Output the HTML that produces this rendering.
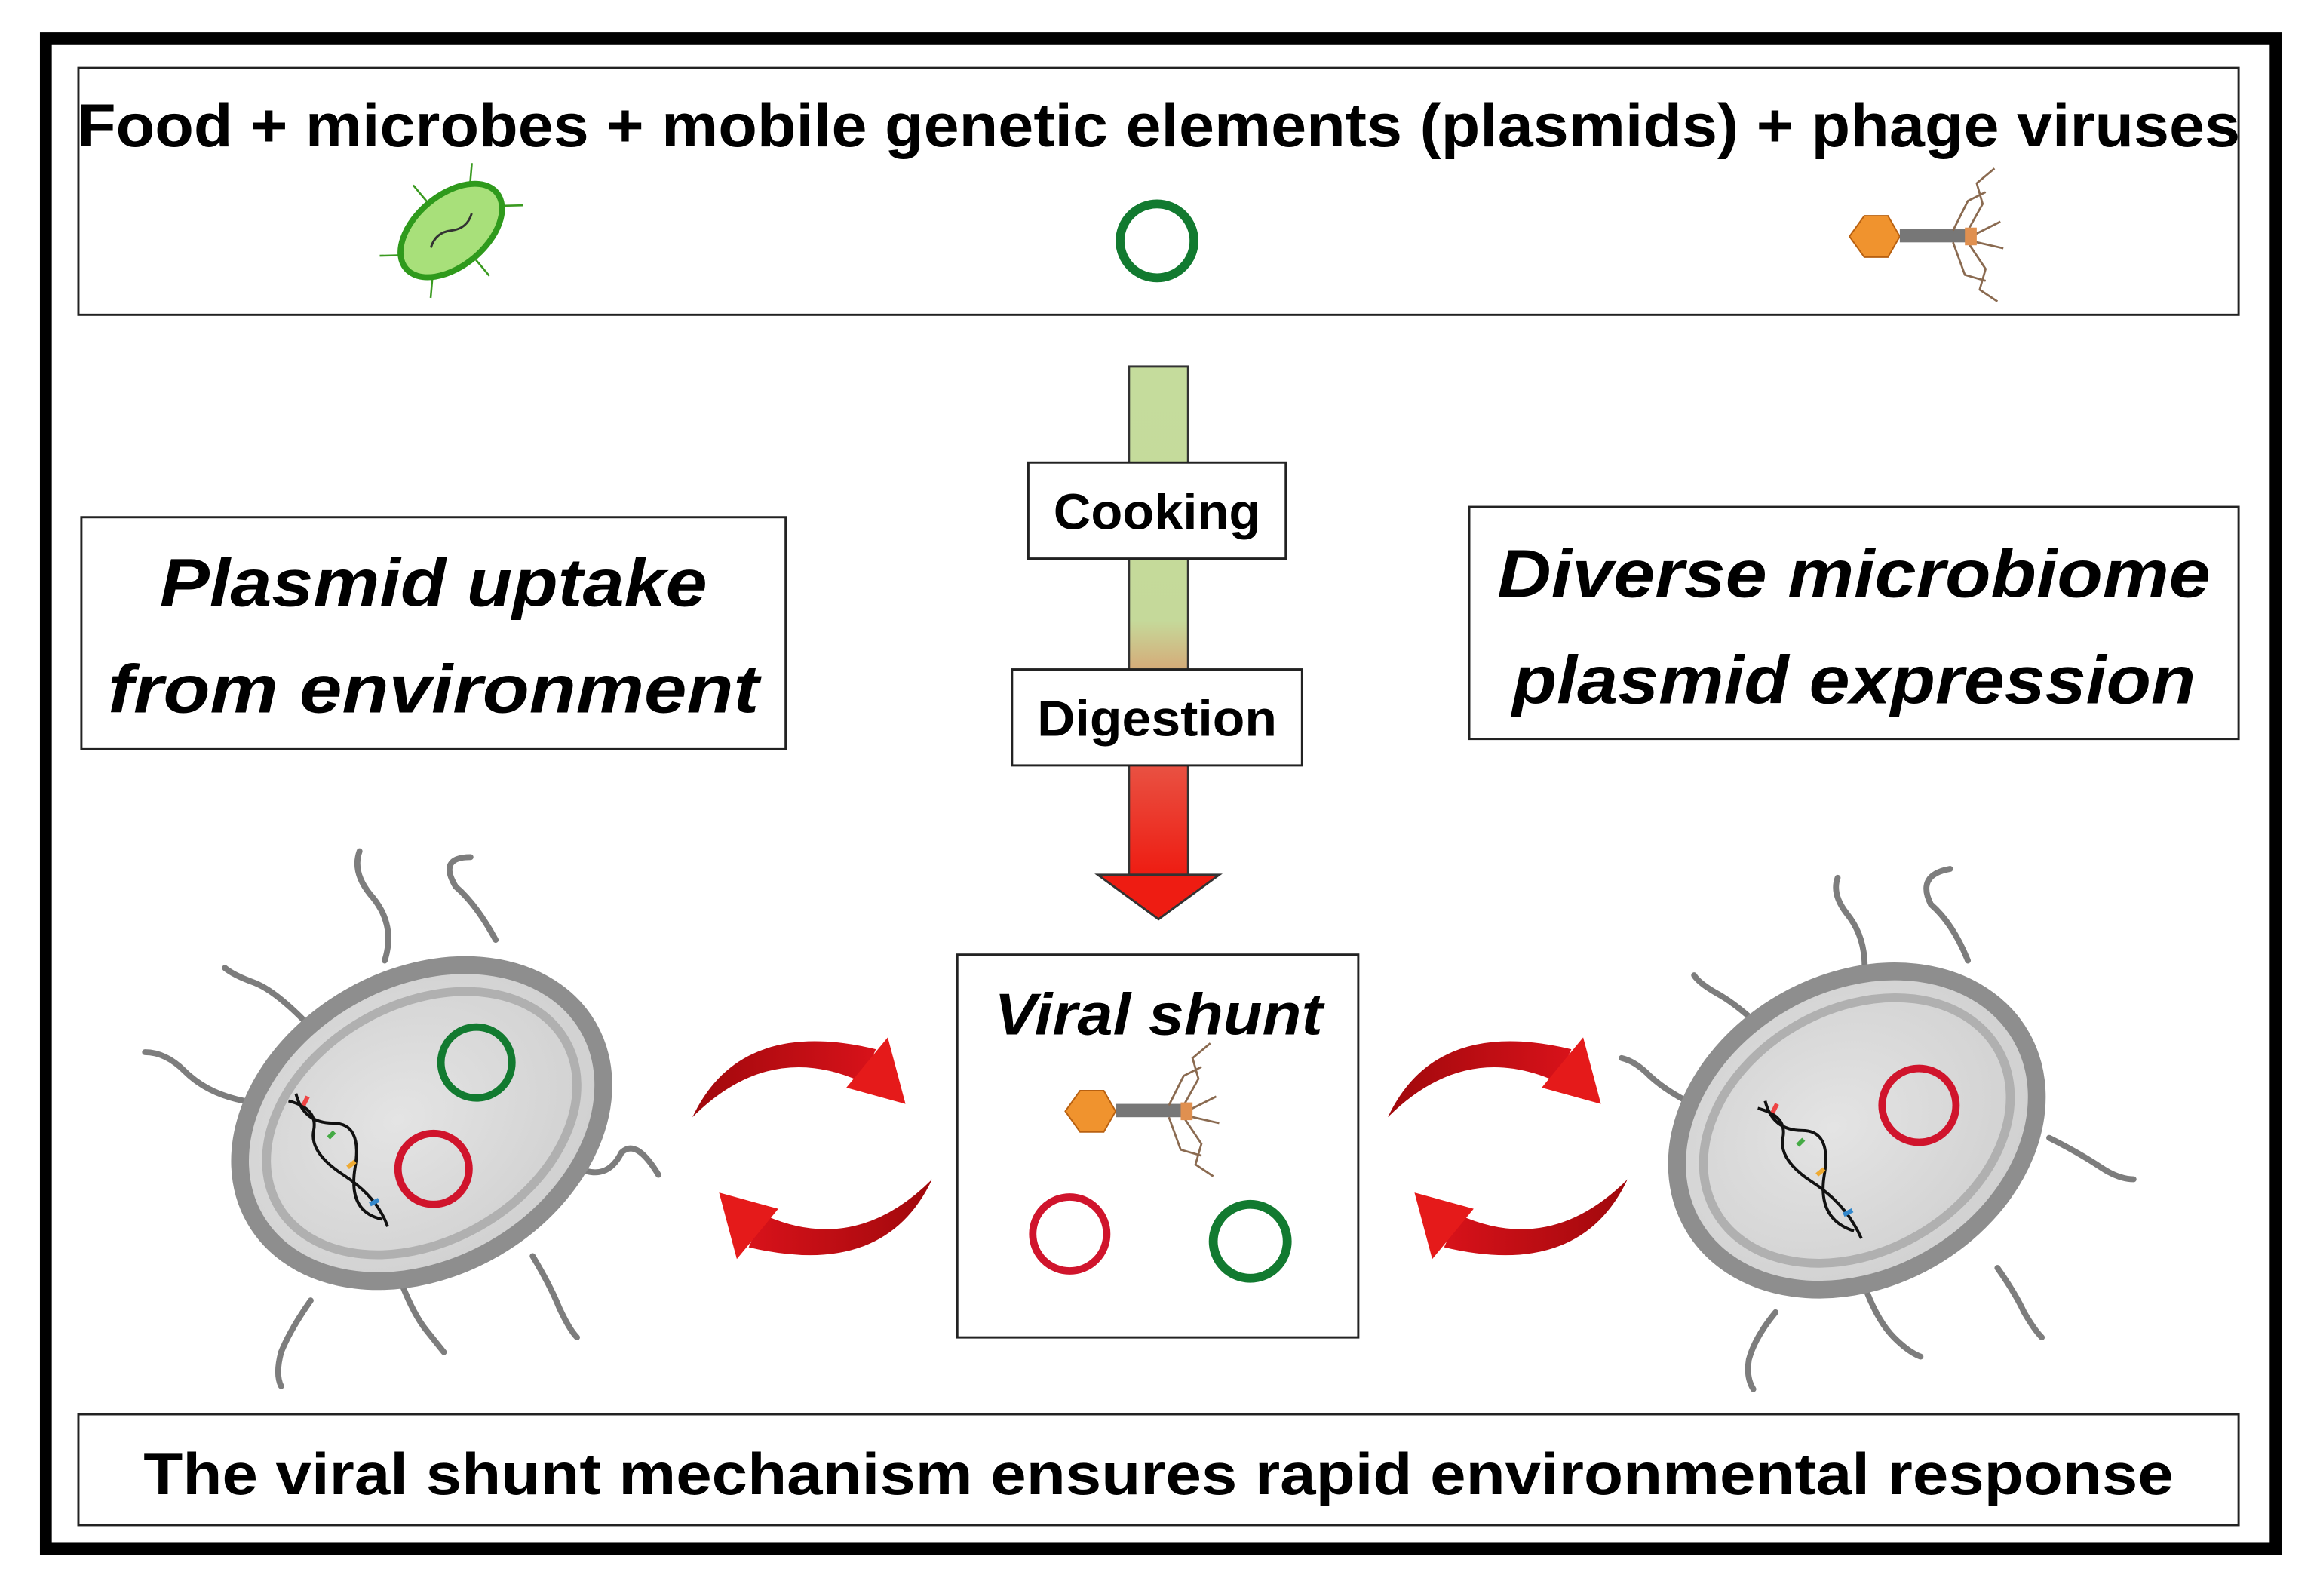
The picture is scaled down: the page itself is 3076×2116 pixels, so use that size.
<!DOCTYPE html>
<html><head><meta charset="utf-8"><style>
html,body{margin:0;padding:0;background:#fff;}
svg{display:block;}
text{font-family:"Liberation Sans",sans-serif;font-weight:bold;fill:#000;}
</style></head><body>
<svg width="3076" height="2116" viewBox="0 0 1568 1080" preserveAspectRatio="none" xmlns="http://www.w3.org/2000/svg">
<defs>
<linearGradient id="bar" x1="0" y1="0" x2="0" y2="1">
<stop offset="0" stop-color="#c5dc9c"/><stop offset="0.5" stop-color="#c5d99a"/><stop offset="0.62" stop-color="#d9a070"/><stop offset="0.75" stop-color="#e85a4a"/><stop offset="1" stop-color="#ee1c12"/>
</linearGradient>
<radialGradient id="cell" cx="0.45" cy="0.45" r="0.6">
<stop offset="0" stop-color="#e4e4e4"/><stop offset="1" stop-color="#cfcfcf"/>
</radialGradient>
<linearGradient id="arr" x1="0" y1="0" x2="1" y2="0">
<stop offset="0" stop-color="#a0080c"/><stop offset="1" stop-color="#d8121a"/>
</linearGradient>
<g id="carrow">
<path d="M468,756 Q500,688 592,710 L582,732 Q520,704 468,756 Z" fill="url(#arr)"/>
<path d="M612,747 L600,702 L572,736 Z" fill="#e51a1a"/>
</g>
<g id="phage">
<polygon points="-40,0 -30,-14 -14,-14 -6,0 -14,14 -30,14" fill="#f0932e" stroke="#b86010" stroke-width="1"/>
<rect x="-6" y="-5" width="48" height="9" fill="#777"/>
<g stroke="#8a6a50" stroke-width="1.4" fill="none">
<path d="M40,-4 L50,-22 L46,-36 L58,-46"/><path d="M30,-4 L40,-24 L52,-30"/>
<path d="M40,4 L52,22 L48,36 L60,44"/><path d="M30,4 L38,26 L52,30"/>
<path d="M42,0 L62,-10"/><path d="M42,3 L64,8"/>
</g>
<rect x="38" y="-6" width="8" height="12" fill="#e09050"/>
</g>
</defs>

<rect x="0" y="0" width="1568" height="1080" fill="#fff"/>
<rect x="31" y="26" width="1507" height="1022" fill="none" stroke="#000" stroke-width="8"/>

<rect x="53" y="46" width="1460" height="167" fill="#fff" stroke="#222" stroke-width="1.5"/>
<text x="783" y="99" font-size="41" text-anchor="middle" textLength="1462" lengthAdjust="spacingAndGlyphs">Food + microbes + mobile genetic elements (plasmids) + phage viruses</text>
<g transform="translate(305,156) rotate(-40)">
<g stroke="#3a9a20" stroke-width="1.3"><line x1="0" y1="-26" x2="0" y2="-40"/><line x1="0" y1="26" x2="0" y2="40"/><line x1="-38" y1="-10" x2="-48" y2="-18"/><line x1="38" y1="10" x2="48" y2="18"/><line x1="-30" y1="16" x2="-40" y2="26"/><line x1="30" y1="-16" x2="40" y2="-26"/></g>
<ellipse cx="0" cy="0" rx="40" ry="24" fill="#a8e07a" stroke="#2f9a1c" stroke-width="4"/>
<path d="M-18,0 Q-9,-6 0,0 T18,0" stroke="#333" fill="none" stroke-width="1.5"/>
</g>
<circle cx="782" cy="163" r="25" fill="none" stroke="#127a30" stroke-width="6"/>
<use href="#phage" transform="translate(1290,160)"/>

<rect x="763" y="248" width="40" height="344" fill="url(#bar)" stroke="#333" stroke-width="1.5"/>
<polygon points="742,592 824,592 783,622" fill="#ee1c12" stroke="#333" stroke-width="1.5"/>
<rect x="695" y="313" width="174" height="65" fill="#fff" stroke="#222" stroke-width="1.5"/>
<text x="782" y="358" font-size="34" text-anchor="middle" textLength="140" lengthAdjust="spacingAndGlyphs">Cooking</text>
<rect x="684" y="453" width="196" height="65" fill="#fff" stroke="#222" stroke-width="1.5"/>
<text x="782" y="498" font-size="34" text-anchor="middle" textLength="162" lengthAdjust="spacingAndGlyphs">Digestion</text>

<rect x="55" y="350" width="476" height="157" fill="#fff" stroke="#222" stroke-width="1.5"/>
<text x="293" y="410" font-size="46" font-style="italic" text-anchor="middle" textLength="370" lengthAdjust="spacingAndGlyphs">Plasmid uptake</text>
<text x="293" y="482" font-size="46" font-style="italic" text-anchor="middle" textLength="440" lengthAdjust="spacingAndGlyphs">from environment</text>
<rect x="993" y="343" width="520" height="157" fill="#fff" stroke="#222" stroke-width="1.5"/>
<text x="1253" y="404" font-size="46" font-style="italic" text-anchor="middle" textLength="482" lengthAdjust="spacingAndGlyphs">Diverse microbiome</text>
<text x="1253" y="476" font-size="46" font-style="italic" text-anchor="middle" textLength="462" lengthAdjust="spacingAndGlyphs">plasmid expression</text>

<rect x="647" y="646" width="271" height="259" fill="#fff" stroke="#222" stroke-width="1.5"/>
<text x="783" y="700" font-size="40" font-style="italic" text-anchor="middle" textLength="222" lengthAdjust="spacingAndGlyphs">Viral shunt</text>
<use href="#phage" transform="translate(760,752)"/>
<circle cx="723" cy="835" r="25" fill="none" stroke="#d0142c" stroke-width="5"/>
<circle cx="845" cy="840" r="25" fill="none" stroke="#127a30" stroke-width="6"/>

<g stroke="#7d7d7d" stroke-width="4" fill="none" stroke-linecap="round">
<path d="M260,650 Q268,625 250,605 Q238,590 243,576"/>
<path d="M335,636 Q322,612 308,600 Q296,580 318,580"/>
<path d="M205,690 Q185,670 172,665 Q158,660 152,655"/>
<path d="M165,745 Q140,740 125,725 Q112,712 98,712"/>
<path d="M390,790 Q410,800 420,780 Q430,770 445,795"/>
<path d="M360,850 Q372,870 378,885 Q385,900 390,905"/>
<path d="M210,880 Q196,900 190,915 Q186,930 190,938"/>
<path d="M272,870 Q280,890 288,900 Q296,910 300,915"/>
</g>
<ellipse cx="285" cy="760" rx="130" ry="98" transform="rotate(-30 285 760)" fill="url(#cell)" stroke="#8e8e8e" stroke-width="12"/>
<ellipse cx="285" cy="760" rx="112" ry="80" transform="rotate(-30 285 760)" fill="none" stroke="#b0b0b0" stroke-width="6"/>
<circle cx="322" cy="719" r="24" fill="none" stroke="#127a30" stroke-width="5"/>
<circle cx="293" cy="791" r="24" fill="none" stroke="#d0142c" stroke-width="5"/>
<g stroke="#111" stroke-width="2" fill="none"><path d="M195,745 Q215,750 212,765 T232,795 T262,830"/><path d="M200,740 Q205,760 225,760 T240,790 T258,825"/></g>
<g stroke-width="3"><line x1="205" y1="748" x2="208" y2="742" stroke="#e44"/><line x1="222" y1="770" x2="226" y2="766" stroke="#4a4"/><line x1="235" y1="790" x2="240" y2="786" stroke="#ea3"/><line x1="250" y1="815" x2="256" y2="812" stroke="#38c"/></g>

<g stroke="#7d7d7d" stroke-width="4" fill="none" stroke-linecap="round">
<path d="M1260,660 Q1262,635 1248,618 Q1238,605 1242,594"/>
<path d="M1330,650 Q1320,625 1305,612 Q1295,592 1318,588"/>
<path d="M1195,700 Q1175,680 1160,672 Q1148,665 1145,660"/>
<path d="M1150,750 Q1128,740 1115,728 Q1105,718 1096,716"/>
<path d="M1385,770 Q1405,780 1420,790 Q1432,798 1442,798"/>
<path d="M1350,858 Q1362,875 1368,888 Q1375,900 1380,905"/>
<path d="M1200,888 Q1186,905 1182,920 Q1180,932 1185,940"/>
<path d="M1262,875 Q1270,895 1280,905 Q1290,915 1298,918"/>
</g>
<ellipse cx="1255" cy="765" rx="128" ry="100" transform="rotate(-30 1255 765)" fill="url(#cell)" stroke="#8e8e8e" stroke-width="12"/>
<ellipse cx="1255" cy="765" rx="110" ry="82" transform="rotate(-30 1255 765)" fill="none" stroke="#b0b0b0" stroke-width="6"/>
<circle cx="1297" cy="748" r="25" fill="none" stroke="#d0142c" stroke-width="5"/>
<g stroke="#111" stroke-width="2" fill="none"><path d="M1188,750 Q1208,755 1205,770 T1225,800 T1258,838"/><path d="M1193,745 Q1198,765 1218,765 T1233,795 T1253,833"/></g>
<g stroke-width="3"><line x1="1198" y1="753" x2="1201" y2="747" stroke="#e44"/><line x1="1215" y1="775" x2="1219" y2="771" stroke="#4a4"/><line x1="1228" y1="795" x2="1233" y2="791" stroke="#ea3"/><line x1="1246" y1="822" x2="1252" y2="819" stroke="#38c"/></g>

<use href="#carrow"/>
<use href="#carrow" transform="rotate(180 549 777)"/>
<use href="#carrow" transform="translate(470,0)"/>
<use href="#carrow" transform="translate(470,0) rotate(180 549 777)"/>

<rect x="53" y="957" width="1460" height="75" fill="#fff" stroke="#222" stroke-width="1.5"/>
<text x="783" y="1011" font-size="40" text-anchor="middle" textLength="1372" lengthAdjust="spacingAndGlyphs">The viral shunt mechanism ensures rapid environmental response</text>
</svg>
</body></html>
